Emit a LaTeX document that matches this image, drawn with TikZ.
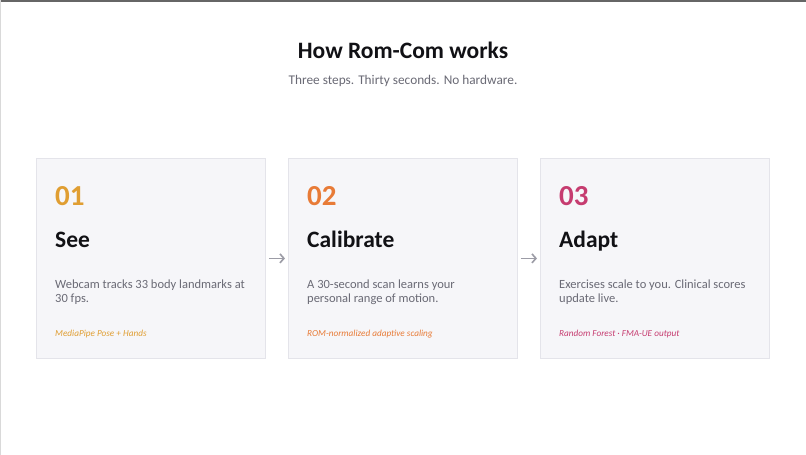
\documentclass[tikz,border=0pt]{standalone}
\usepackage{fontspec}
\setmainfont{Carlito}
\usetikzlibrary{arrows.meta}
\definecolor{cardfill}{HTML}{F6F6F9}
\definecolor{cardline}{HTML}{E4E4EA}
\definecolor{amber}{HTML}{E09E32}
\definecolor{orng}{HTML}{E87B37}
\definecolor{magen}{HTML}{C63C70}
\definecolor{ink}{HTML}{111115}
\definecolor{bodygray}{HTML}{6A6A75}
\definecolor{arrowgray}{HTML}{9C9CA6}
\tikzset{
  x=1pt,y=-1pt,
  card/.style={draw=cardline,fill=cardfill,line width=0.8pt,minimum width=229pt,minimum height=200pt,inner sep=0pt,anchor=north west},
  txt/.style={inner sep=0pt,anchor=base west},
  numtxt/.style={txt,font=\fontsize{29}{32}\selectfont\bfseries},
  headtxt/.style={txt,text=ink,font=\fontsize{23.5}{26}\selectfont\bfseries},
  bodytxt/.style={txt,text=bodygray,align=left,font=\fontsize{12.5}{14.5}\selectfont},
  captxt/.style={txt,font=\fontsize{9.2}{11}\selectfont\itshape},
  flow/.style={draw=arrowgray,line width=1.6pt,-{Straight Barb[length=4pt,width=9pt,line width=1.6pt]},shorten <=3pt,shorten >=3pt}
}
\begin{document}
\begin{tikzpicture}
\fill[white] (0,0) rectangle (806,455);
\useasboundingbox (0,0) rectangle (806,455);
\draw[draw=black!60,line width=1.5pt] (0,0.75) -- (806,0.75);
\draw[draw=black!15,line width=1pt] (0.5,0) -- (0.5,455);
\node[inner sep=0pt,anchor=base,text=ink,font=\fontsize{23.5}{26}\selectfont\bfseries] (title) at (403,58) {How Rom-Com works};
\node[inner sep=0pt,anchor=base,text=bodygray,font=\fontsize{13.3}{15}\selectfont] (sub) at (403,84) {Three steps. Thirty seconds. No hardware.};
% cards
\node[card] (b1) at (36,158) {};
\node[card] (b2) at (288,158) {};
\node[card] (b3) at (540,158) {};
% card 1
\node[numtxt,text=amber] (n1) at (55,205) {01};
\node[headtxt] (h1) at (55,247) {See};
\node[bodytxt] (t1) at (55,302.5) {Webcam tracks 33 body landmarks at\\30 fps.};
\node[captxt,text=amber] (c1) at (55,336) {MediaPipe Pose + Hands};
% card 2
\node[numtxt,text=orng] (n2) at (307,205) {02};
\node[headtxt] (h2) at (307,247) {Calibrate};
\node[bodytxt] (t2) at (307,302.5) {A 30-second scan learns your\\personal range of motion.};
\node[captxt,text=orng] (c2) at (307,336) {ROM-normalized adaptive scaling};
% card 3
\node[numtxt,text=magen] (n3) at (559,205) {03};
\node[headtxt] (h3) at (559,247) {Adapt};
\node[bodytxt] (t3) at (559,302.5) {Exercises scale to you. Clinical scores\\update live.};
\node[captxt,text=magen] (c3) at (559,336) {Random Forest · FMA-UE output};
% arrows
\draw[flow] (b1.east) -- (b2.west);
\draw[flow] (b2.east) -- (b3.west);
\end{tikzpicture}
\end{document}
